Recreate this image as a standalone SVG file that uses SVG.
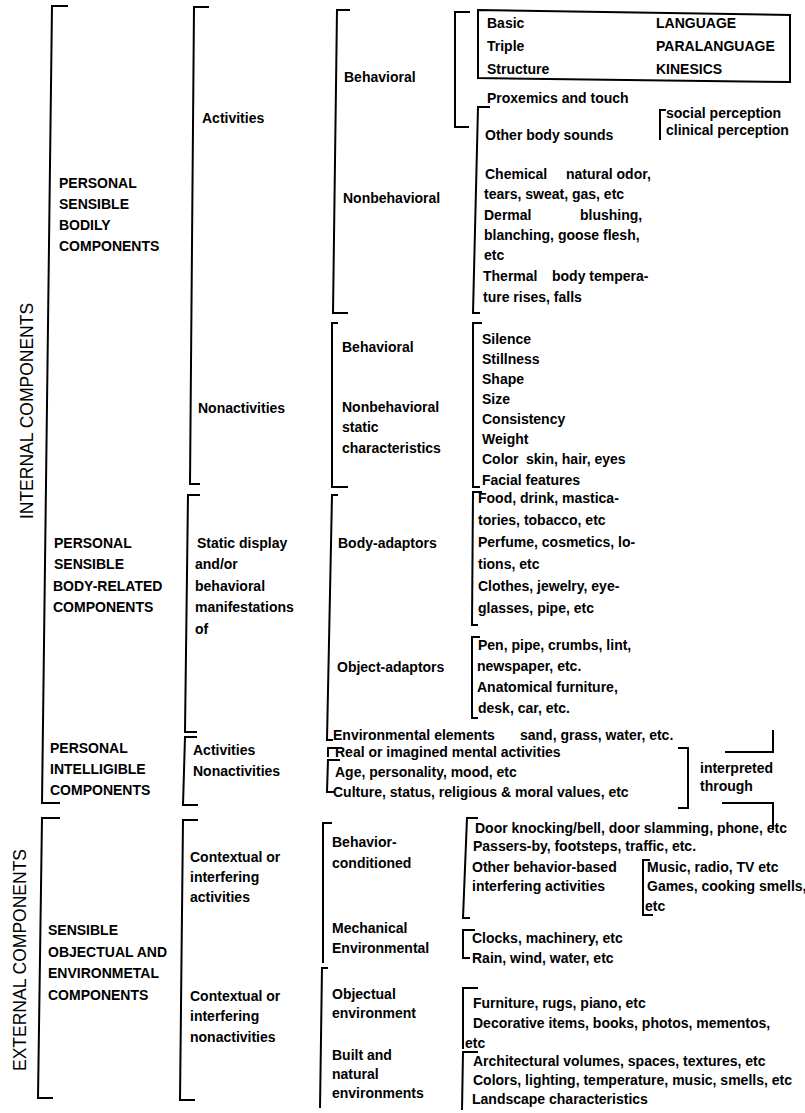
<svg xmlns="http://www.w3.org/2000/svg" width="805" height="1113" viewBox="0 0 805 1113">
  <style>
    .t { font-family: "Liberation Sans", Arial, Helvetica, sans-serif; font-size: 14px; font-weight: bold; fill: #000; }
    .title { font-family: "Liberation Sans", Arial, Helvetica, sans-serif; font-size: 17.5px; fill: #000; }
    .br { fill: none; stroke: #000; stroke-width: 2; stroke-linejoin: miter; }
  </style>
  <rect width="805" height="1113" fill="#fff"/>

  <!-- bracket connectors -->
  <g id="connectors" class="br">
    <!-- level 1 -->
    <path d="M68,6 H52 L42,803 H60"/>
    <path d="M60,818 H42 L38,1098 H53"/>
    <!-- level 2 -->
    <path d="M209,7 H194 L190,484 H200"/>
    <path d="M200,495 H188 L185,732 H197"/>
    <path d="M197,737 H185 L183,805 H198"/>
    <path d="M198,820 H183 L180,1100 H195"/>
    <!-- level 3 -->
    <path d="M350,10 H337 L333,313 H348"/>
    <path d="M338,323 H332 V487 H348"/>
    <path d="M338,495 H332 L327,740 H333"/>
    <path d="M340,748 H328 V757"/>
    <path d="M340,760 H328 L327,792 H335"/>
    <path d="M332,823 H323 V963"/>
    <path d="M328,968 H322 L320,1108"/>
    <!-- level 4 -->
    <path d="M470,12 H455 V127 H469"/>
    <path d="M478,10 L790,15 L790,82 L478,78 Z"/>
    <path d="M490,107 H478 L473,313 H480"/>
    <path d="M482,323 H473 V487 H480"/>
    <path d="M482,492 H473 L472,625 H478"/>
    <path d="M480,637 H472 V718 H478"/>
    <path d="M478,818 H467 L463,918 H470"/>
    <path d="M475,930 H463 V958 H470"/>
    <path d="M478,988 H463 V1049"/>
    <path d="M478,1052 H463 L462,1110"/>
    <!-- level 5 -->
    <path d="M666,110 H660 V140"/>
    <path d="M650,860 H643 V915 H653"/>
    <path d="M678,748 H688 V808 H678"/>
    <path d="M725,752 H773 V730"/>
    <path d="M722,803 H773 V830"/>
  </g>

  <!-- side titles -->
  <g id="internal">
    <text class="title" transform="translate(33,411) rotate(-90)" text-anchor="middle">INTERNAL COMPONENTS</text>
  </g>
  <g id="external">
    <text class="title" transform="translate(25.5,960) rotate(-90)" text-anchor="middle">EXTERNAL COMPONENTS</text>
  </g>

  <!-- level 1 groups -->
  <g id="bodily">
    <text class="t"><tspan x="59" y="188">PERSONAL</tspan><tspan x="59" y="209">SENSIBLE</tspan><tspan x="59" y="230">BODILY</tspan><tspan x="59" y="251">COMPONENTS</tspan></text>
  </g>
  <g id="body-related">
    <text class="t"><tspan x="54" y="548">PERSONAL</tspan><tspan x="54" y="569">SENSIBLE</tspan><tspan x="53" y="591">BODY-RELATED</tspan><tspan x="53" y="612">COMPONENTS</tspan></text>
  </g>
  <g id="intelligible">
    <text class="t"><tspan x="50" y="753">PERSONAL</tspan><tspan x="50" y="774">INTELLIGIBLE</tspan><tspan x="50" y="795">COMPONENTS</tspan></text>
  </g>
  <g id="objectual">
    <text class="t"><tspan x="48" y="935">SENSIBLE</tspan><tspan x="48" y="957">OBJECTUAL AND</tspan><tspan x="48" y="978">ENVIRONMETAL</tspan><tspan x="48" y="1000">COMPONENTS</tspan></text>
  </g>

  <!-- level 2 -->
  <g id="activities"><text class="t" x="202" y="123">Activities</text></g>
  <g id="nonactivities"><text class="t" x="198" y="413">Nonactivities</text></g>
  <g id="static-display">
    <text class="t"><tspan x="197" y="548">Static display</tspan><tspan x="195" y="569">and/or</tspan><tspan x="195" y="591">behavioral</tspan><tspan x="195" y="612">manifestations</tspan><tspan x="195" y="634">of</tspan></text>
  </g>
  <g id="intel-activities"><text class="t" x="193" y="755">Activities</text></g>
  <g id="intel-nonactivities"><text class="t" x="193" y="776">Nonactivities</text></g>
  <g id="contextual-activities">
    <text class="t"><tspan x="190" y="862">Contextual or</tspan><tspan x="190" y="882">interfering</tspan><tspan x="190" y="902">activities</tspan></text>
  </g>
  <g id="contextual-nonactivities">
    <text class="t"><tspan x="190" y="1001">Contextual or</tspan><tspan x="190" y="1021">interfering</tspan><tspan x="190" y="1042">nonactivities</tspan></text>
  </g>

  <!-- level 3 -->
  <g id="behavioral-1"><text class="t" x="344" y="82">Behavioral</text></g>
  <g id="nonbehavioral-1"><text class="t" x="343" y="203">Nonbehavioral</text></g>
  <g id="behavioral-2"><text class="t" x="342" y="352">Behavioral</text></g>
  <g id="nonbehavioral-2">
    <text class="t"><tspan x="342" y="412">Nonbehavioral</tspan><tspan x="342" y="432">static</tspan><tspan x="342" y="453">characteristics</tspan></text>
  </g>
  <g id="body-adaptors"><text class="t" x="338" y="548">Body-adaptors</text></g>
  <g id="object-adaptors"><text class="t" x="337" y="672">Object-adaptors</text></g>
  <g id="environmental-elements"><text class="t"><tspan x="333" y="740">Environmental elements</tspan><tspan x="520">sand, grass, water, etc.</tspan></text></g>
  <g id="mental">
    <text class="t"><tspan x="335" y="757">Real or imagined mental activities</tspan><tspan x="335" y="777">Age, personality, mood, etc</tspan><tspan x="333" y="797">Culture, status, religious &amp; moral values, etc</tspan></text>
  </g>
  <g id="interpreted">
    <text class="t"><tspan x="700" y="773">interpreted</tspan><tspan x="700" y="791">through</tspan></text>
  </g>
  <g id="behavior-conditioned">
    <text class="t"><tspan x="332" y="847">Behavior-</tspan><tspan x="332" y="868">conditioned</tspan></text>
  </g>
  <g id="mechanical">
    <text class="t"><tspan x="332" y="933">Mechanical</tspan><tspan x="332" y="953">Environmental</tspan></text>
  </g>
  <g id="objectual-environment">
    <text class="t"><tspan x="332" y="999">Objectual</tspan><tspan x="332" y="1018">environment</tspan></text>
  </g>
  <g id="built-natural">
    <text class="t"><tspan x="332" y="1060">Built and</tspan><tspan x="332" y="1079">natural</tspan><tspan x="332" y="1098">environments</tspan></text>
  </g>

  <!-- level 4 : behavioral -->
  <g id="triple-structure">
    <text class="t"><tspan x="487" y="28">Basic</tspan><tspan x="487" y="51">Triple</tspan><tspan x="487" y="74">Structure</tspan></text>
    <text class="t"><tspan x="656" y="28">LANGUAGE</tspan><tspan x="656" y="51">PARALANGUAGE</tspan><tspan x="656" y="74">KINESICS</tspan></text>
  </g>
  <g id="proxemics"><text class="t" x="487" y="103">Proxemics and touch</text></g>
  <g id="body-sounds"><text class="t" x="485" y="140">Other body sounds</text></g>
  <g id="perception">
    <text class="t"><tspan x="666" y="118">social perception</tspan><tspan x="666" y="135">clinical perception</tspan></text>
  </g>
  <g id="nonbehavioral-items">
    <text class="t"><tspan x="485" y="179">Chemical</tspan><tspan x="566">natural odor,</tspan><tspan x="484" y="199">tears, sweat, gas, etc</tspan><tspan x="484" y="220">Dermal</tspan><tspan x="580">blushing,</tspan><tspan x="484" y="240">blanching, goose flesh,</tspan><tspan x="484" y="260">etc</tspan><tspan x="483" y="281">Thermal</tspan><tspan x="552">body tempera-</tspan><tspan x="483" y="302">ture rises, falls</tspan></text>
  </g>
  <g id="static-items">
    <text class="t"><tspan x="482" y="344">Silence</tspan><tspan x="482" y="364">Stillness</tspan><tspan x="482" y="384">Shape</tspan><tspan x="482" y="404">Size</tspan><tspan x="482" y="424">Consistency</tspan><tspan x="482" y="444">Weight</tspan><tspan x="482" y="464">Color</tspan><tspan x="526">skin, hair, eyes</tspan><tspan x="482" y="485">Facial features</tspan></text>
  </g>
  <g id="body-adaptor-items">
    <text class="t"><tspan x="478" y="503">Food, drink, mastica-</tspan><tspan x="478" y="525">tories, tobacco, etc</tspan><tspan x="478" y="547">Perfume, cosmetics, lo-</tspan><tspan x="478" y="569">tions, etc</tspan><tspan x="478" y="591">Clothes, jewelry, eye-</tspan><tspan x="478" y="613">glasses, pipe, etc</tspan></text>
  </g>
  <g id="object-adaptor-items">
    <text class="t"><tspan x="478" y="650">Pen, pipe, crumbs, lint,</tspan><tspan x="477" y="671">newspaper, etc.</tspan><tspan x="477" y="692">Anatomical furniture,</tspan><tspan x="478" y="713">desk, car, etc.</tspan></text>
  </g>

  <!-- level 4 : external -->
  <g id="behavior-items">
    <text class="t"><tspan x="475" y="833">Door knocking/bell, door slamming, phone, etc</tspan><tspan x="473" y="851">Passers-by, footsteps, traffic, etc.</tspan><tspan x="472" y="872">Other behavior-based</tspan><tspan x="472" y="891">interfering activities</tspan></text>
  </g>
  <g id="interfering-items">
    <text class="t"><tspan x="647" y="872">Music, radio, TV etc</tspan><tspan x="647" y="891">Games, cooking smells,</tspan><tspan x="645" y="911">etc</tspan></text>
  </g>
  <g id="mechanical-items">
    <text class="t"><tspan x="472" y="943">Clocks, machinery, etc</tspan><tspan x="472" y="963">Rain, wind, water, etc</tspan></text>
  </g>
  <g id="objectual-items">
    <text class="t"><tspan x="473" y="1008">Furniture, rugs, piano, etc</tspan><tspan x="473" y="1028">Decorative items, books, photos, mementos,</tspan><tspan x="465" y="1048">etc</tspan></text>
  </g>
  <g id="built-items">
    <text class="t"><tspan x="473" y="1066">Architectural volumes, spaces, textures, etc</tspan><tspan x="473" y="1085">Colors, lighting, temperature, music, smells, etc</tspan><tspan x="472" y="1104">Landscape characteristics</tspan></text>
  </g>
</svg>
